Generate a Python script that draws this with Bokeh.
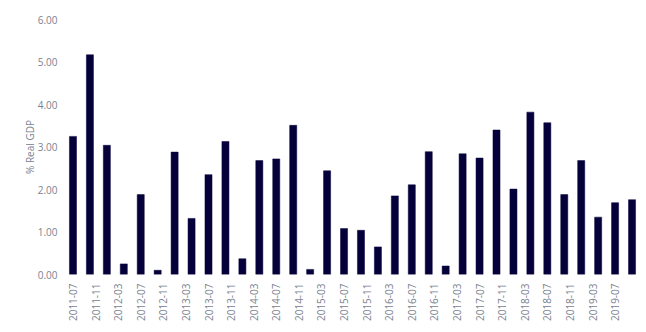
from bokeh.plotting import figure
from bokeh.models import FixedTicker, Range1d, ColumnDataSource
from bokeh.embed import file_html
from bokeh.resources import INLINE

# Quarterly observations
periods = ["2011-07", "2011-10", "2012-01", "2012-04", "2012-07", "2012-10",
           "2013-01", "2013-04", "2013-07", "2013-10", "2014-01", "2014-04",
           "2014-07", "2014-10", "2015-01", "2015-04", "2015-07", "2015-10",
           "2016-01", "2016-04", "2016-07", "2016-10", "2017-01", "2017-04",
           "2017-07", "2017-10", "2018-01", "2018-04", "2018-07", "2018-10",
           "2019-01", "2019-04", "2019-07", "2019-10"]
values = [3.25, 5.17, 3.04, 0.25, 1.88, 0.10, 2.88, 1.32, 2.35, 3.13, 0.37, 2.68,
          2.72, 3.51, 0.12, 2.44, 1.08, 1.04, 0.65, 1.85, 2.11, 2.89, 0.20, 2.84,
          2.74, 3.40, 2.01, 3.82, 3.57, 1.88, 2.68, 1.35, 1.69, 1.76]
tick_labels = ["2011-07", "2011-11", "2012-03", "2012-07", "2012-11", "2013-03",
               "2013-07", "2013-11", "2014-03", "2014-07", "2014-11", "2015-03",
               "2015-07", "2015-11", "2016-03", "2016-07", "2016-11", "2017-03",
               "2017-07", "2017-11", "2018-03", "2018-07", "2018-11", "2019-03",
               "2019-07"]
y_ticks = [0, 1, 2, 3, 4, 5, 6]


def month_index(s):
    y, m = s.split("-")
    return (int(y) - 2011) * 12 + (int(m) - 7)


x = [month_index(s) for s in periods]
tick_pos = [month_index(s) for s in tick_labels]

src = ColumnDataSource(dict(x=x, top=values))

TXT = "#7a8290"
FONT = "Open Sans"

p = figure(width=646, height=332, output_backend="svg", toolbar_location=None,
           x_range=Range1d(-1.5, 100.5), y_range=Range1d(0, 6),
           min_border_left=64, min_border_right=6, min_border_top=19,
           min_border_bottom=58)

p.vbar(x="x", top="top", bottom=0, width=1.25, source=src,
       fill_color="#05003a", line_color="#05003a", line_width=0.5)

p.xgrid.visible = False
p.ygrid.visible = False
p.outline_line_color = None

xa = p.xaxis[0]
xa.ticker = FixedTicker(ticks=tick_pos)
xa.major_label_overrides = {t: l for t, l in zip(tick_pos, tick_labels)}
xa.major_label_orientation = 1.5708
xa.axis_line_color = None
xa.major_tick_line_color = None
xa.minor_tick_line_color = None
xa.major_tick_out = 0
xa.major_label_standoff = 9
xa.major_label_text_font = FONT
xa.major_label_text_font_size = "10px"
xa.major_label_text_color = TXT

ya = p.yaxis[0]
ya.ticker = FixedTicker(ticks=y_ticks)
ya.major_label_overrides = {t: f"{t:.2f}" for t in y_ticks}
ya.axis_line_color = None
ya.major_tick_line_color = None
ya.minor_tick_line_color = None
ya.major_tick_out = 0
ya.major_label_standoff = 7
ya.major_label_text_font = FONT
ya.major_label_text_font_size = "10px"
ya.major_label_text_color = TXT
ya.axis_label = "% Real GDP"
ya.axis_label_text_font = FONT
ya.axis_label_text_font_size = "10px"
ya.axis_label_text_font_style = "normal"
ya.axis_label_text_color = TXT
ya.axis_label_standoff = -2

p.background_fill_color = "white"
p.border_fill_color = "white"

open("out.html", "w").write(file_html(p, INLINE))
